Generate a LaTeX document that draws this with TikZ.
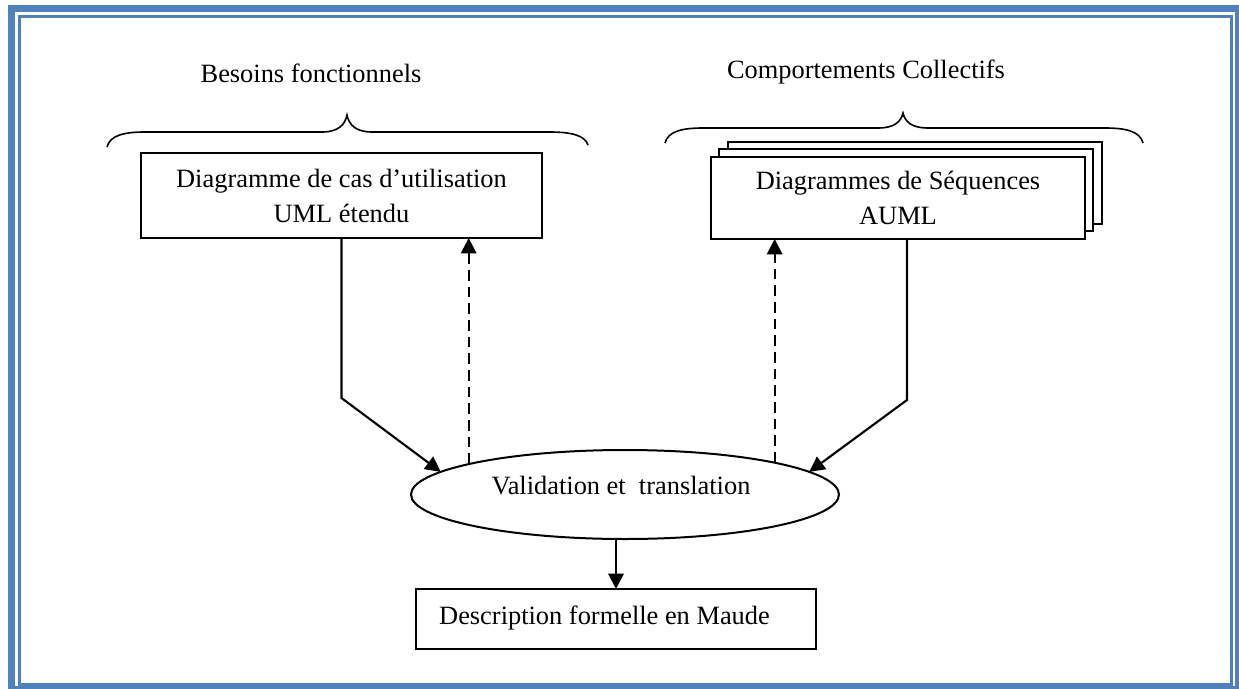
\documentclass[tikz,border=0pt]{standalone}
\usepackage{fontspec}
\setmainfont{Liberation Serif}
\usetikzlibrary{arrows.meta,shapes.geometric,calc}
\definecolor{frameblue}{RGB}{79,129,189}
\begin{document}
\begin{tikzpicture}[x=0.75pt,y=-0.75pt,
  every node/.style={font=\fontsize{19.8}{26.25}\selectfont},
  box/.style={draw, line width=1.5pt, inner sep=0pt, outer sep=0pt, align=center},
  flow/.style={line width=1.6pt, -{Triangle[length=11.5pt,width=11.5pt]}},
  back/.style={flow, dash pattern=on 8pt off 4.5pt},
  brace/.style={line width=1.2pt},
]
\useasboundingbox (0,0) rectangle (1239,689);
\fill[white] (0,0) rectangle (1239,689);
% page frame
\draw[frameblue, line width=5.25pt] (11.5,8.5) rectangle (1238.5,689.5);
\draw[frameblue, line width=2.25pt] (19.5,16.5) rectangle (1231.5,684);

% headings
\node[anchor=base] (bf) at (311,82) {Besoins fonctionnels};
\node[anchor=base] (cc) at (866,78) {Comportements Collectifs};

% braces
\draw[brace] (107,147) .. controls (110,135) and (125,132) .. (145,132) -- (322,132)
  .. controls (338,132) and (345,125) .. (347,115)
  .. controls (349,125) and (356,132) .. (372,132) -- (550,132)
  .. controls (570,132) and (585,135) .. (588,145);
\draw[brace] (665,143) .. controls (668,131) and (683,128) .. (703,128) -- (878,128)
  .. controls (894,128) and (901,122) .. (903,113)
  .. controls (905,122) and (912,128) .. (928,128) -- (1105,128)
  .. controls (1125,128) and (1140,131) .. (1143,143);

% use case box
\node[box, minimum width=300.75pt, minimum height=63.75pt] (uc) at (341.5,195.5)
  {Diagramme de cas d’utilisation\\UML étendu};

% stacked sequence diagrams
\node[box, fill=white, minimum width=280.5pt, minimum height=61.5pt] (sq3) at (915,183) {};
\node[box, fill=white, minimum width=280.5pt, minimum height=61.5pt] (sq2) at (906,190) {};
\node[box, fill=white, minimum width=280.5pt, minimum height=61.5pt] (sq) at (898,198)
  {Diagrammes de Séquences\\AUML};

% validation step
\node[draw, ellipse, line width=1.5pt, minimum width=321pt, minimum height=66.75pt,
  inner sep=0pt, outer sep=0pt] (val) at (625,494.5) {};
\node[anchor=base] (valtxt) at (621,494) {Validation et\ \ translation};

% result box
\node[box, minimum width=300pt, minimum height=45pt] (fm) at (616,619) {};
\node[anchor=base] (fmtxt) at (604.5,624) {Description formelle en Maude};

% connectors
\coordinate (lc) at (341.5,398);
\draw[flow] (uc.south) -- (lc) -- (val.173.07);
\coordinate (rc) at (907,400);
\draw[flow] (rc |- sq.south) -- (rc) -- (val.7.3);
\draw[back] (val.169.9) -- (val.169.9 |- uc.south);
\draw[back] (val.12.9) -- (val.12.9 |- sq.south);
\draw[flow] (fm.north |- val.south) -- (fm.north);
\end{tikzpicture}
\end{document}
